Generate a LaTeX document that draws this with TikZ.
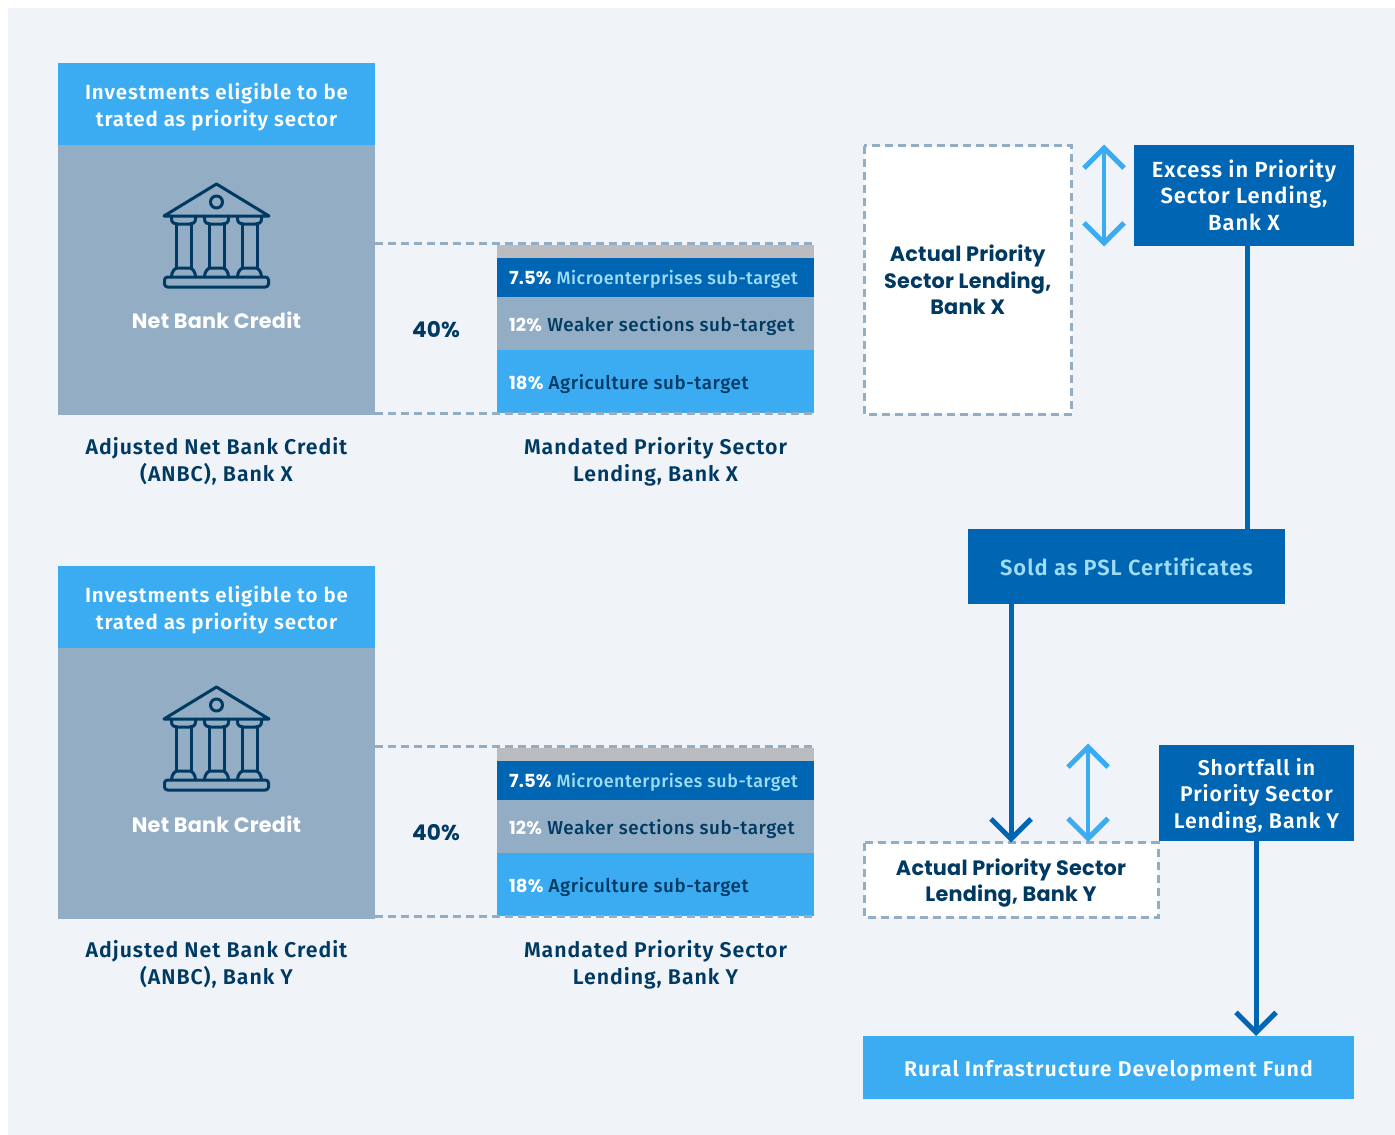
\documentclass[tikz,border=0pt]{standalone}
\usepackage{fontspec}
\usetikzlibrary{arrows.meta}
\setmainfont{Fira Sans}
\newfontfamily\inter[LetterSpace=4.5,Ligatures=NoCommon]{Fira Sans SemiBold}
\newfontfamily\interm[LetterSpace=3,Ligatures=NoCommon]{Fira Sans Medium}
\newfontfamily\goth[LetterSpace=1]{Poppins Bold}
\definecolor{bgc}{HTML}{F0F3F8}
\definecolor{skyb}{HTML}{3BACF2}
\definecolor{greyb}{HTML}{92ADC4}
\definecolor{darkb}{HTML}{0065B3}
\definecolor{navy}{HTML}{003A63}
\definecolor{lighttxt}{HTML}{9FDDF5}
\definecolor{silver}{HTML}{BBBCBF}
\newcommand{\ifnt}{\inter\fontsize{21.3}{26.5}\selectfont}
\newcommand{\xfnt}{\inter\fontsize{21.9}{26.5}\selectfont}
\newcommand{\hfnt}{\inter\fontsize{20.5}{27}\selectfont}
\newcommand{\gfnt}{\goth\fontsize{20.8}{26.5}\selectfont}
\newcommand{\qfnt}{\goth\fontsize{21.6}{26.5}\selectfont}
\newcommand{\bfnt}{\interm\fontsize{18.8}{24}\selectfont}
\newcommand{\mfnt}{\interm\fontsize{17.9}{24}\selectfont}
\newcommand{\pfnt}{\goth\fontsize{18}{24}\selectfont}
% fixed height above the first line and depth below the last, so that baselines sit where they should
\newcommand{\ftop}{\rule{0pt}{23pt}}
\newcommand{\lbot}{\rule[-6pt]{0pt}{1pt}}
\newcommand{\bartxt}[2]{\makebox[293pt][l]{\rule[-5pt]{0pt}{#1}#2}}
\tikzset{
  x=1pt,y=-1pt,
  boxn/.style={anchor=north west,inner sep=0pt,outer sep=0pt,align=center},
  captxt/.style={inner sep=0pt,outer sep=0pt,align=center,text=navy},
  barn/.style={anchor=north west,outer sep=0pt,inner ysep=0pt,inner xsep=12pt,minimum width=317pt},
  dashln/.style={draw=greyb,line width=3pt,dash pattern=on 8pt off 5pt},
  heavy/.style={draw=darkb,line width=5pt,-{Straight Barb[length=20pt,width=40pt,line width=5pt]}},
  plainline/.style={draw=darkb,line width=5pt},
  twoway/.style={draw=skyb,line width=4pt,{Straight Barb[length=20pt,width=40pt,line width=5pt]}-{Straight Barb[length=20pt,width=40pt,line width=5pt]}},
  bankicon/.pic={
    \begin{scope}[draw=navy,line width=3pt,line join=round,line cap=round]
    \draw (-52.5,-20) -- (0,-52) -- (52.5,-20) -- cycle;
    \draw (0,-34) circle (6pt);
    \foreach \c in {-33,0,33}{
      \draw (\c-7.5,-11) -- (\c-7.5,32) (\c+7.5,-11) -- (\c+7.5,32);
      \draw (\c-12,-20) -- (\c-12,-17) .. controls (\c-12,-13) and (\c-9,-12) .. (\c-6,-12) -- (\c+6,-12) .. controls (\c+9,-12) and (\c+12,-13) .. (\c+12,-17) -- (\c+12,-20);
      \draw (\c-12,41) .. controls (\c-12,36) and (\c-9,32) .. (\c-6,32) -- (\c+6,32) .. controls (\c+9,32) and (\c+12,36) .. (\c+12,41);
    }
    \draw[rounded corners=3pt] (-52,41) rectangle (52,51);
    \end{scope}
  }
}
\begin{document}
\begin{tikzpicture}
\useasboundingbox (0,0) rectangle (1395,1135);
\fill[bgc] (8,8) rectangle (1395,1135);
\foreach \dy/\bk/\nm/\gh/\ny in {0/X/a/270/320,503/Y/b/271/321}{
  \begin{scope}[yshift=-\dy pt]
  \node[boxn,fill=greyb,minimum width=317pt,minimum height=\gh pt] (anbc\nm) at (58,145) {};
  \node[boxn,fill=skyb,text=white,minimum width=317pt,minimum height=82pt,font=\hfnt] (inv\nm) at (58,63) {\ftop Investments eligible to be\\trated as priority sector\lbot};
  \pic at (216.5,236) {bankicon};
  \node[captxt,text=white,font=\gfnt] (nbc\nm) at (216.5,\ny) {\ftop Net Bank Credit\lbot};
  \node[captxt,font=\ifnt] (lab\nm) at (216.5,459.3) {\ftop Adjusted Net Bank Credit\\(ANBC), Bank \bk\lbot};
  \node[boxn,fill=silver,minimum width=317pt,minimum height=13pt] (top\nm) at (497,245) {};
  \node[barn,fill=darkb,minimum height=39pt,font=\mfnt,text=lighttxt] (mic\nm) at (497,258) {\bartxt{24pt}{{\pfnt\color{white}7.5\%} Microenterprises sub-target}};
  \node[barn,fill=greyb,minimum height=53pt,font=\bfnt,text=navy] (wea\nm) at (497,297) {\bartxt{26pt}{{\pfnt\color{white}12\%} Weaker sections sub-target}};
  \node[barn,fill=skyb,minimum height=63pt,font=\bfnt,text=navy] (agr\nm) at (497,350) {\bartxt{26pt}{{\pfnt\color{white}18\%} Agriculture sub-target}};
  \coordinate (t1\nm) at (375,243.5); \coordinate (t2\nm) at (814,243.5);
  \coordinate (b1\nm) at (375,413.5); \coordinate (b2\nm) at (814,413.5);
  \draw[dashln] (t1\nm) -- (t2\nm);
  \draw[dashln] (b1\nm) -- (b2\nm);
  \node[captxt,font=\qfnt] (pct\nm) at (436,329) {\ftop 40\%\lbot};
  \node[captxt,font=\ifnt] (man\nm) at (655.5,459.3) {\ftop Mandated Priority Sector\\Lending, Bank \bk\lbot};
  \end{scope}
}
% right side
\node[boxn,fill=white,minimum width=207.5pt,minimum height=268.5pt,text=navy,font=\gfnt] (actx) at (864,145.5) {\ftop Actual Priority\\Sector Lending,\\Bank X\lbot};
\draw[dashln] (actx.north west) rectangle (actx.south east);
\node[boxn,fill=darkb,text=white,minimum width=220pt,minimum height=101pt,font=\xfnt] (exc) at (1134,144.5) {\ftop Excess in Priority\\Sector Lending,\\Bank X\lbot};
\node[boxn,fill=darkb,text=lighttxt,minimum width=317pt,minimum height=75pt,font=\xfnt] (psl) at (968,529) {\ftop Sold as PSL Certificates\lbot};
\node[boxn,fill=white,minimum width=294pt,minimum height=74.5pt,text=navy,font=\gfnt] (acty) at (864,842.5) {\ftop Actual Priority Sector\\Lending, Bank Y\lbot};
\draw[dashln] (acty.north west) rectangle (acty.south east);
\node[boxn,fill=darkb,text=white,minimum width=195pt,minimum height=96pt,font=\ifnt] (sho) at (1159,745) {\ftop Shortfall in\\Priority Sector\\Lending, Bank Y\lbot};
\node[boxn,fill=skyb,text=white,minimum width=491pt,minimum height=63pt,font=\ifnt] (rid) at (863,1036) {\ftop Rural Infrastructure Development Fund\lbot};
% connectors
\coordinate (ax) at (1104,144.5); \coordinate (bx) at (1104,246.5);
\coordinate (ay) at (1088,743.5); \coordinate (by) at (1088,842);
\coordinate (c1) at (1247,0); \coordinate (c2) at (1011,0); \coordinate (c3) at (1256,0);
\draw[twoway] (ax) -- (bx);
\draw[twoway] (ay) -- (by);
\draw[plainline] (exc.south -| c1) -- (psl.north -| c1);
\draw[heavy] (psl.south -| c2) -- (acty.north -| c2);
\draw[heavy] (sho.south -| c3) -- (rid.north -| c3);
\end{tikzpicture}
\end{document}
